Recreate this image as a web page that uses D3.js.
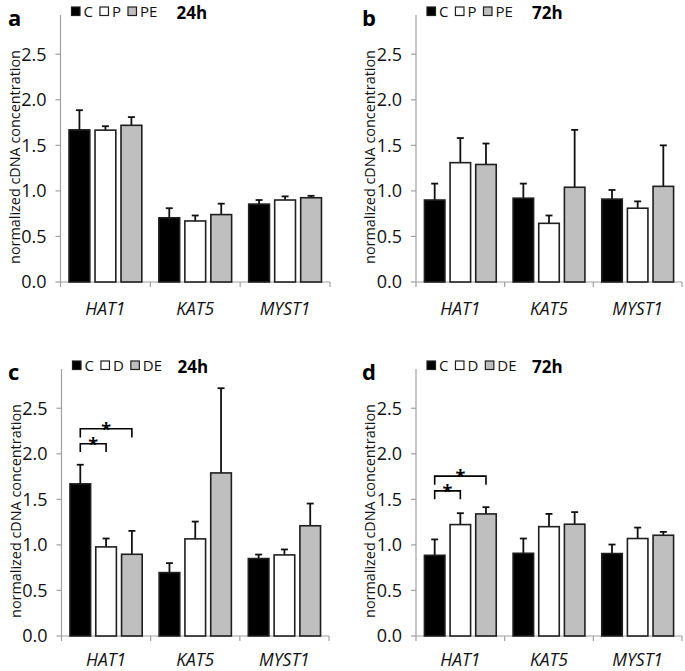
<!DOCTYPE html>
<html><head><meta charset="utf-8">
<script src="https://cdn.jsdelivr.net/npm/d3@7"></script>
<style>body{margin:0;background:#fff}svg{display:block}</style>
</head><body>
<svg id="chart" width="685" height="671"></svg>
<script>
// ---------- data ----------
const categories = ["HAT1", "KAT5", "MYST1"];
const yTicks = [0, 0.5, 1.0, 1.5, 2.0, 2.5];
const yTitle = "normalized cDNA concentration";

// panel a (24h, C / P / PE)
const seriesA = ["C", "P", "PE"];
const aMeanC = [1.67, 0.705, 0.855], aErrC = [0.216, 0.105, 0.045];
const aMeanP = [1.667, 0.67, 0.90],  aErrP = [0.043, 0.06, 0.04];
const aMeanPE = [1.72, 0.74, 0.925], aErrPE = [0.09, 0.12, 0.021];

// panel b (72h, C / P / PE)
const bMeanC = [0.90, 0.92, 0.91],  bErrC = [0.18, 0.16, 0.10];
const bMeanP = [1.31, 0.644, 0.81], bErrP = [0.27, 0.086, 0.075];
const bMeanPE = [1.29, 1.04, 1.05], bErrPE = [0.23, 0.63, 0.45];

// panel c (24h, C / D / DE)
const seriesC = ["C", "D", "DE"];
const cMeanC = [1.67, 0.696, 0.85],  cErrC = [0.21, 0.104, 0.044];
const cMeanD = [0.978, 1.066, 0.89], cErrD = [0.092, 0.19, 0.06];
const cMeanDE = [0.897, 1.79, 1.21], cErrDE = [0.257, 0.93, 0.244];

// panel d (72h, C / D / DE)
const dMeanC = [0.886, 0.908, 0.905], dErrC = [0.174, 0.162, 0.099];
const dMeanD = [1.223, 1.20, 1.07],   dErrD = [0.125, 0.14, 0.12];
const dMeanDE = [1.34, 1.227, 1.106], dErrDE = [0.074, 0.133, 0.037];

// significance brackets: [category, fromSeries, toSeries, barY, legY]
const cSig = [["HAT1", 0, 1, 2.11, 2.02], ["HAT1", 0, 2, 2.275, 2.18]];
const dSig = [["HAT1", 0, 1, 1.593, 1.50], ["HAT1", 0, 2, 1.755, 1.66]];

const fills = ["#000000", "#ffffff", "#bfbfbf"];

// ---------- layout ----------
const panels = [
  {letter: "a", time: "24h", series: seriesA, means: [aMeanC, aMeanP, aMeanPE], errs: [aErrC, aErrP, aErrPE], sig: [], ax: 60.5, axEnd: 330, zero: 282, lx: 8},
  {letter: "b", time: "72h", series: seriesA, means: [bMeanC, bMeanP, bMeanPE], errs: [bErrC, bErrP, bErrPE], sig: [], ax: 416, axEnd: 682, zero: 282, lx: 362},
  {letter: "c", time: "24h", series: seriesC, means: [cMeanC, cMeanD, cMeanDE], errs: [cErrC, cErrD, cErrDE], sig: cSig, ax: 61.5, axEnd: 329, zero: 636, lx: 8},
  {letter: "d", time: "72h", series: seriesC, means: [dMeanC, dMeanD, dMeanDE], errs: [dErrC, dErrD, dErrDE], sig: dSig, ax: 416, axEnd: 682, zero: 636, lx: 362}
];

const svg = d3.select("#chart");
const FONT = "'Open Sans', 'DejaVu Sans', sans-serif";
const axisColor = "#a0a0a0";
const textColor = "#111";
const yMax = 2.93, unit = 91.1;

panels.forEach(p => {
  const g = svg.append("g");
  const top = p.zero - 282;
  const y = d3.scaleLinear().domain([0, yMax]).range([p.zero, p.zero - yMax * unit]);
  const x0 = d3.scaleBand().domain(categories).range([p.ax, p.axEnd]).padding(0);
  const pad = x0.bandwidth() * 0.095;
  const x1 = d3.scaleBand().domain(d3.range(3)).range([pad, x0.bandwidth() - pad]).paddingInner(0.2).paddingOuter(0);

  // y axis
  g.append("line").attr("x1", p.ax).attr("x2", p.ax).attr("y1", y(0)).attr("y2", y(yMax))
    .attr("stroke", axisColor).attr("stroke-width", 1.2);
  yTicks.forEach(t => {
    g.append("line").attr("x1", p.ax - 5).attr("x2", p.ax).attr("y1", y(t)).attr("y2", y(t))
      .attr("stroke", axisColor).attr("stroke-width", 1.2);
    g.append("text").attr("x", p.ax - 14).attr("y", y(t)).attr("dy", "0.36em")
      .attr("text-anchor", "end").attr("font-family", FONT).attr("font-size", 18).attr("fill", textColor)
      .text(t.toFixed(1));
  });
  // x axis
  g.append("line").attr("x1", p.ax).attr("x2", p.axEnd).attr("y1", y(0)).attr("y2", y(0))
    .attr("stroke", axisColor).attr("stroke-width", 1.2);
  categories.concat(["__end"]).forEach((c, i) => {
    const xx = i < 3 ? x0(c) : p.axEnd;
    g.append("line").attr("x1", xx).attr("x2", xx).attr("y1", y(0)).attr("y2", y(0) + 5)
      .attr("stroke", axisColor).attr("stroke-width", 1.2);
  });
  categories.forEach(c => {
    g.append("text").attr("x", x0(c) + x0.bandwidth() / 2).attr("y", Math.min(p.zero + 33, 666))
      .attr("text-anchor", "middle").attr("font-family", FONT).attr("font-size", 17.5)
      .attr("font-style", "italic").attr("fill", textColor).text(c);
  });
  // y title
  const tx = p.ax - 41, ty = top + 157;
  g.append("text").attr("transform", `translate(${tx},${ty}) rotate(-90)`)
    .attr("text-anchor", "middle").attr("font-family", FONT).attr("font-size", 14.4)
    .attr("fill", textColor).text(yTitle);

  // bars + error bars
  p.means.forEach((vals, si) => {
    vals.forEach((v, ci) => {
      const bx = x0(categories[ci]) + x1(si), bw = x1.bandwidth();
      const cx = bx + bw / 2;
      const e = p.errs[si][ci];
      g.append("line").attr("x1", cx).attr("x2", cx).attr("y1", y(v)).attr("y2", y(v + e))
        .attr("stroke", "#111").attr("stroke-width", 1.8);
      g.append("line").attr("x1", cx - 3.5).attr("x2", cx + 3.5).attr("y1", y(v + e)).attr("y2", y(v + e))
        .attr("stroke", "#111").attr("stroke-width", 1.8);
      g.append("rect").attr("x", bx).attr("y", y(v)).attr("width", bw).attr("height", y(0) - y(v))
        .attr("fill", fills[si]).attr("stroke", "#1f1f1f").attr("stroke-width", 1.6);
    });
  });

  // significance brackets
  p.sig.forEach(s => {
    const xa = x0(s[0]) + x1(s[1]) + x1.bandwidth() / 2;
    const xb = x0(s[0]) + x1(s[2]) + x1.bandwidth() / 2;
    g.append("path").attr("d", `M${xa},${y(s[4])}V${y(s[3])}H${xb}V${y(s[4])}`)
      .attr("fill", "none").attr("stroke", "#000").attr("stroke-width", 1.6);
    g.append("text").attr("x", (xa + xb) / 2).attr("y", y(s[3]) + 7)
      .attr("text-anchor", "middle").attr("font-family", FONT).attr("font-size", 18)
      .attr("font-weight", "bold").attr("fill", "#000").text("*");
  });

  // panel letter
  g.append("text").attr("x", p.lx).attr("y", top + 26)
    .attr("font-family", FONT).attr("font-size", 22).attr("font-weight", "bold").attr("fill", "#000")
    .text(p.letter);

  // legend
  let lx = p.ax + 11;
  const ly = top + 7;
  p.series.forEach((s, si) => {
    g.append("rect").attr("x", lx).attr("y", ly).attr("width", 8.5).attr("height", 8.5)
      .attr("fill", fills[si]).attr("stroke", "#1f1f1f").attr("stroke-width", 1.2);
    const t = g.append("text").attr("x", lx + 12).attr("y", ly + 9.5)
      .attr("font-family", FONT).attr("font-size", 15).attr("fill", textColor).text(s);
    lx += 12 + t.node().getComputedTextLength() + 7;
  });
  g.append("text").attr("x", p.ax + 116).attr("y", top + 18.5)
    .attr("font-family", FONT).attr("font-size", 17).attr("font-weight", "bold").attr("fill", "#000")
    .text(p.time);
});
</script>
</body></html>
